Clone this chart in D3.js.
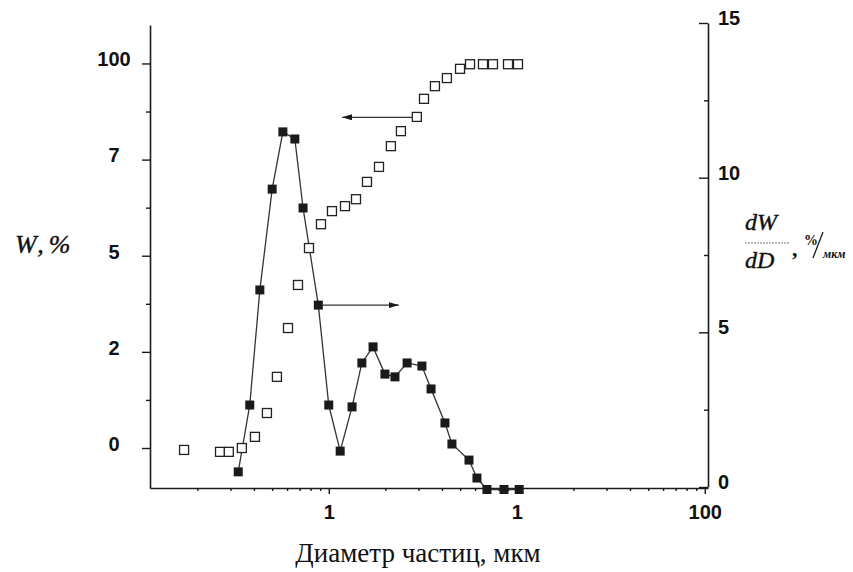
<!DOCTYPE html>
<html>
<head>
<meta charset="utf-8">
<script src="https://cdn.jsdelivr.net/npm/d3@7"></script>
<style>
  body { margin: 0; background: #fff; }
  .ticklbl { font-family: "Liberation Sans", Arial, sans-serif; font-weight: bold; font-size: 20px; fill: #111; }
  .serif { font-family: "Liberation Serif", "Times New Roman", serif; fill: #111; }
</style>
</head>
<body>
<svg id="chart" width="853" height="572"></svg>
<script>

// cumulative curve, W % (open squares, left axis)
var diamW = [0.017, 0.0264, 0.0294, 0.0345, 0.0405, 0.0469, 0.053, 0.0607, 0.0686, 0.0785,
             0.0909, 0.104, 0.122, 0.1396, 0.1597, 0.185, 0.214, 0.242, 0.294, 0.321,
             0.367, 0.425, 0.499, 0.564, 0.661, 0.747, 0.898, 1.015];
var cumW  = [-0.5, -1.0, -1.0, 0, 2.9, 9.1, 18.5, 31.2, 42.4, 52.0,
             58.2, 61.6, 62.9, 64.7, 69.2, 73.1, 78.5, 82.4, 86.1, 90.8,
             94.1, 96.2, 98.6, 99.8, 99.8, 99.8, 99.8, 99.8];

// differential curve, dW/dD (filled squares, right axis)
var diamD = [0.033, 0.038, 0.043, 0.050, 0.057, 0.066, 0.073, 0.088, 0.100, 0.115,
             0.133, 0.150, 0.172, 0.199, 0.225, 0.261, 0.313, 0.350, 0.415, 0.452,
             0.557, 0.614, 0.694, 0.855, 1.03];
var dWdD  = [0.49, 2.65, 6.37, 9.63, 11.48, 11.25, 9.02, 5.88, 2.65, 1.16,
             2.59, 4.01, 4.53, 3.65, 3.56, 4.01, 3.91, 3.17, 2.07, 1.39,
             0.87, 0.29, -0.08, -0.08, -0.08];

// tick values and the labels printed next to them
var leftTicks   = [0, 25, 50, 75, 100];
var leftLabels  = ["0", "2", "5", "7", "100"];
var leftMinor   = [12.5, 37.5, 62.5, 87.5];
var rightTicks  = [0, 5, 10, 15];
var rightMinor  = [2.5, 7.5, 12.5];
var xTicks      = [0.1, 1, 10];
var xLabels     = ["1", "1", "100"];
var xMinor      = [0.02, 0.03, 0.04, 0.05, 0.06, 0.07, 0.08, 0.09,
                   0.2, 0.3, 0.4, 0.5, 0.6, 0.7, 0.8, 0.9,
                   2, 3, 4, 5, 6, 7, 8, 9];

// arrows: [y, x from, x to] - which axis they point at
var arrowLeft  = [86, 0.2805, 0.1177];
var arrowRight = [5.88, 0.0921, 0.236];

var svg = d3.select("#chart");
var ink = "#1a1a1a";

var x  = d3.scaleLog().domain([0.0112, 10.4]).range([150, 708]);
var yL = d3.scaleLinear().domain([-10.4, 110]).range([488, 25]);
var yR = d3.scaleLinear().domain([0, 15]).range([487, 23]);

svg.append("defs").append("marker")
    .attr("id", "head")
    .attr("viewBox", "0 0 10 6")
    .attr("refX", 10).attr("refY", 3)
    .attr("markerWidth", 10).attr("markerHeight", 6)
    .attr("markerUnits", "userSpaceOnUse")
    .attr("orient", "auto")
  .append("path")
    .attr("d", "M0,0L10,3L0,6Z")
    .attr("fill", ink);

function styleAxis(g) {
    g.select(".domain").attr("stroke", ink).attr("stroke-width", 1.6);
    g.selectAll(".tick line").attr("stroke", ink).attr("stroke-width", 1.4);
}

// left axis
var gL = svg.append("g").attr("transform", "translate(150,0)")
    .call(d3.axisLeft(yL).tickValues(leftTicks).tickSize(8).tickSizeOuter(0)
          .tickFormat(function(d, i) { return leftLabels[i]; }));
styleAxis(gL);
gL.selectAll("text").attr("class", "ticklbl")
    .attr("x", -36).attr("y", -4).attr("text-anchor", "middle");
var gLm = svg.append("g").attr("transform", "translate(150,0)")
    .call(d3.axisLeft(yL).tickValues(leftMinor).tickSize(4).tickFormat(""));
gLm.select(".domain").remove();
styleAxis(gLm);

// right axis, ticks point into the plot
var gR = svg.append("g").attr("transform", "translate(708,0)")
    .call(d3.axisLeft(yR).tickValues(rightTicks).tickSize(9).tickSizeOuter(0));
styleAxis(gR);
gR.selectAll("text").attr("class", "ticklbl")
    .attr("x", 10).attr("y", -5).attr("text-anchor", "start");
var gRm = svg.append("g").attr("transform", "translate(708,0)")
    .call(d3.axisLeft(yR).tickValues(rightMinor).tickSize(4).tickFormat(""));
gRm.select(".domain").remove();
styleAxis(gRm);

// bottom axis
var gX = svg.append("g").attr("transform", "translate(0,488)")
    .call(d3.axisBottom(x).tickValues(xTicks).tickSize(6).tickSizeOuter(0)
          .tickFormat(function(d, i) { return xLabels[i]; }));
styleAxis(gX);
gX.selectAll("text").attr("class", "ticklbl").attr("y", 17);
var gXm = svg.append("g").attr("transform", "translate(0,488)")
    .call(d3.axisBottom(x).tickValues(xMinor).tickSize(3).tickFormat(""));
gXm.select(".domain").remove();
styleAxis(gXm);

// differential curve
var pts = diamD.map(function(d, i) { return [d, dWdD[i]]; });
svg.append("path")
    .datum(pts)
    .attr("fill", "none")
    .attr("stroke", "#333")
    .attr("stroke-width", 1.3)
    .attr("d", d3.line().x(function(d) { return x(d[0]); }).y(function(d) { return yR(d[1]); }));

var sq = 9;
svg.append("g").selectAll("rect")
    .data(pts)
    .enter()
    .append("rect")
    .attr("x", function(d) { return x(d[0]) - sq / 2; })
    .attr("y", function(d) { return yR(d[1]) - sq / 2; })
    .attr("width", sq).attr("height", sq)
    .attr("fill", ink);

// cumulative curve
var cpts = diamW.map(function(d, i) { return [d, cumW[i]]; });
svg.append("g").selectAll("rect")
    .data(cpts)
    .enter()
    .append("rect")
    .attr("x", function(d) { return x(d[0]) - 4.5; })
    .attr("y", function(d) { return yL(d[1]) - 4.5; })
    .attr("width", 9).attr("height", 9)
    .attr("fill", "#fff")
    .attr("stroke", "#222")
    .attr("stroke-width", 1.3);

// arrows
svg.append("line")
    .attr("x1", x(arrowLeft[1])).attr("x2", x(arrowLeft[2]))
    .attr("y1", yL(arrowLeft[0])).attr("y2", yL(arrowLeft[0]))
    .attr("stroke", "#333").attr("stroke-width", 1.3)
    .attr("marker-end", "url(#head)");
svg.append("line")
    .attr("x1", x(arrowRight[1])).attr("x2", x(arrowRight[2]))
    .attr("y1", yR(arrowRight[0])).attr("y2", yR(arrowRight[0]))
    .attr("stroke", "#333").attr("stroke-width", 1.3)
    .attr("marker-end", "url(#head)");

// axis titles
var wt = svg.append("text").attr("class", "serif")
    .attr("x", 15).attr("y", 253)
    .style("font-size", "26px").style("font-style", "italic")
    .style("stroke", "#111").style("stroke-width", 0.4);
wt.append("tspan").text("W");
wt.append("tspan").attr("dx", 3).text(",");
wt.append("tspan").attr("dx", 5).text("%");

svg.append("text").attr("class", "serif")
    .attr("x", 745).attr("y", 230)
    .style("font-size", "24px").style("font-style", "italic")
    .style("stroke", "#111").style("stroke-width", 0.4)
    .text("dW");
svg.append("line")
    .attr("x1", 745).attr("x2", 790).attr("y1", 243).attr("y2", 243)
    .attr("stroke", "#777").attr("stroke-width", 1).attr("stroke-dasharray", "2,1");
svg.append("text").attr("class", "serif")
    .attr("x", 745).attr("y", 268)
    .style("font-size", "24px").style("font-style", "italic")
    .style("stroke", "#111").style("stroke-width", 0.4)
    .text("dD");
svg.append("text").attr("class", "serif")
    .attr("x", 792).attr("y", 256)
    .style("font-size", "22px").style("font-weight", "bold")
    .text(",");
svg.append("text").attr("class", "serif")
    .attr("x", 804).attr("y", 245)
    .style("font-size", "14px").style("font-weight", "bold")
    .text("%");
svg.append("line")
    .attr("x1", 813).attr("y1", 258).attr("x2", 823).attr("y2", 232)
    .attr("stroke", ink).attr("stroke-width", 1.3);
svg.append("text").attr("class", "serif")
    .attr("x", 823).attr("y", 258)
    .style("font-size", "12px").style("font-style", "italic").style("font-weight", "bold")
    .text("мкм");

svg.append("text").attr("class", "serif")
    .attr("x", 418).attr("y", 562)
    .attr("text-anchor", "middle")
    .style("font-size", "27px")
    .text("Диаметр частиц, мкм");

</script>
</body>
</html>
